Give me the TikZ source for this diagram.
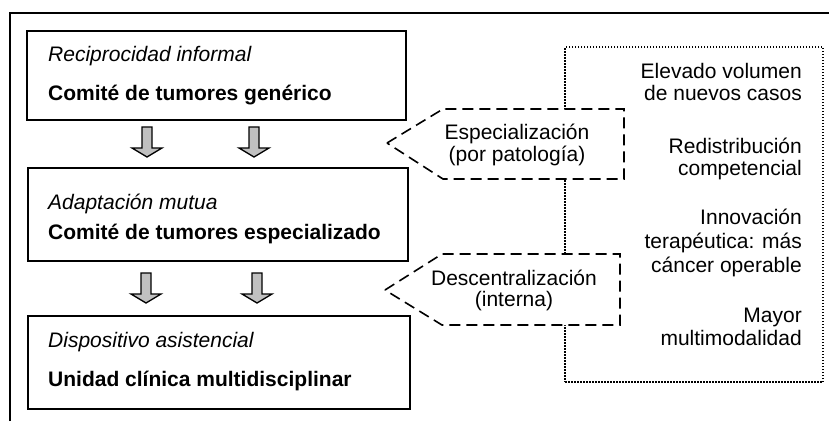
\documentclass[tikz,border=0pt]{standalone}
\usepackage{fontspec}
\setmainfont{Liberation Sans}
\definecolor{arrowgray}{RGB}{192,192,192}
\begin{document}
\begin{tikzpicture}[x=1pt,y=-1pt,
  txt/.style={font=\fontsize{21}{25}\selectfont, inner sep=0pt},
  stagebox/.style={draw, rectangle, line width=2pt, inner sep=0pt},
  stagetitle/.style={txt, font=\fontsize{21}{25}\selectfont\itshape, anchor=base west},
  stagename/.style={txt, font=\fontsize{21}{25}\selectfont\bfseries, anchor=base west},
  blockarrow/.style={draw, fill=arrowgray, line width=1.3pt, line join=miter},
  callout/.style={draw, fill=white, line width=1.6pt, dash pattern=on 11pt off 6pt, line join=miter},
  callouttext/.style={txt, anchor=base},
  factorbox/.style={draw, rectangle, line width=1.5pt, dash pattern=on 1.5pt off 1.5pt, inner sep=0pt},
  factortext/.style={txt, anchor=base east},
  frameline/.style={line width=2pt}]
\useasboundingbox (0,0) rectangle (829,421);

% outer frame
\coordinate (fbl) at (10,421);
\coordinate (ftl) at (10,13);
\coordinate (ftr) at (829,13);
\draw[frameline] (fbl) -- (ftl) -- (ftr);

% stage boxes
\node[stagebox, minimum width=379pt, minimum height=89pt] (s1) at (216.5,75.5) {};
\node[stagebox, minimum width=380pt, minimum height=93pt] (s2) at (218,214.5) {};
\node[stagebox, minimum width=382pt, minimum height=93pt] (s3) at (219,362.5) {};

\node[stagetitle] (t1) at (48,61) {Reciprocidad informal};
\node[stagename]  (n1) at (48,100) {Comité de tumores genérico};
\node[stagetitle] (t2) at (48,209) {Adaptación mutua};
\node[stagename]  (n2) at (48,239) {Comité de tumores especializado};
\node[stagetitle] (t3) at (48,347) {Dispositivo asistencial};
\node[stagename]  (n3) at (48,386) {Unidad clínica multidisciplinar};

% block arrows
\coordinate (a1) at (147,127);
\coordinate (a2) at (254,127);
\coordinate (a3) at (146,273);
\coordinate (a4) at (257,273);
\foreach \a in {a1,a2,a3,a4}{
  \draw[blockarrow] (\a) ++(-5,0) -- ++(10,0) -- ++(0,21) -- ++(10,0) -- ++(-15,9) -- ++(-15,-9) -- ++(10,0) -- cycle;
}

% factors box
\node[factorbox, minimum width=258pt, minimum height=335pt] (fb) at (694,214.5) {};

\node[factortext] (f1a) at (802,78)  {Elevado volumen};
\node[factortext] (f1b) at (802,100) {de nuevos casos};
\node[factortext] (f2a) at (802,153) {Redistribución};
\node[factortext] (f2b) at (802,175) {competencial};
\node[factortext] (f3a) at (802,224) {Innovación};
\node[factortext] (f3b) at (802,248) {terapéutica: más};
\node[factortext] (f3c) at (802,272) {cáncer operable};
\node[factortext] (f4a) at (802,322) {Mayor};
\node[factortext] (f4b) at (802,345) {multimodalidad};

% callouts
\coordinate (c1tip) at (387,143);
\coordinate (c1tl) at (443,109);
\coordinate (c1tr) at (624,109);
\coordinate (c1br) at (624,179);
\coordinate (c1bl) at (443,179);
\draw[callout] (c1tip) -- (c1tl) -- (c1tr) -- (c1br) -- (c1bl) -- cycle;
\node[callouttext] (e1) at (517,139) {Especialización};
\node[callouttext] (e2) at (517,161) {(por patología)};

\coordinate (c2tip) at (385,290);
\coordinate (c2tl) at (442,254);
\coordinate (c2tr) at (620,254);
\coordinate (c2br) at (620,325);
\coordinate (c2bl) at (442,325);
\draw[callout] (c2tip) -- (c2tl) -- (c2tr) -- (c2br) -- (c2bl) -- cycle;
\node[callouttext] (d1) at (514,285) {Descentralización};
\node[callouttext] (d2) at (514,306) {(interna)};
\end{tikzpicture}
\end{document}
